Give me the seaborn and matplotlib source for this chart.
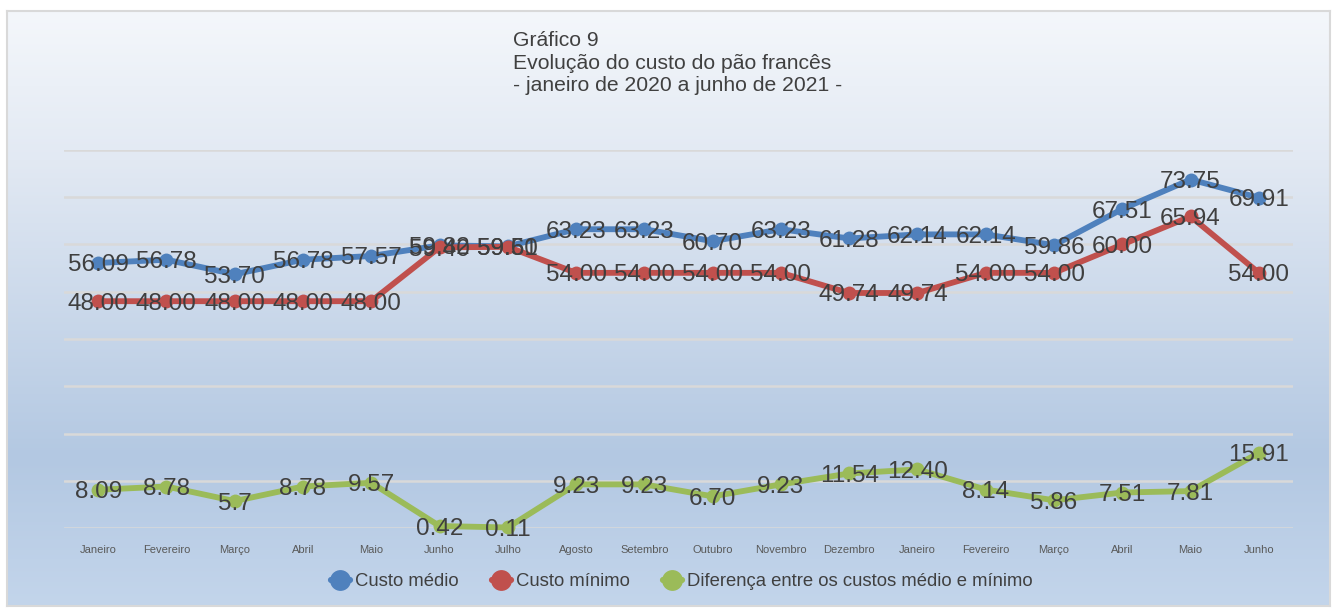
import numpy as np
import pandas as pd
import matplotlib
matplotlib.use("Agg")
import matplotlib.pyplot as plt
from matplotlib.colors import LinearSegmentedColormap
from matplotlib.lines import Line2D
import seaborn as sns

months = ["Janeiro", "Fevereiro", "Março", "Abril", "Maio", "Junho", "Julho", "Agosto",
          "Setembro", "Outubro", "Novembro", "Dezembro", "Janeiro", "Fevereiro", "Março",
          "Abril", "Maio", "Junho"]
custo_medio = [56.09, 56.78, 53.70, 56.78, 57.57, 59.82, 59.61, 63.23, 63.23, 60.70,
               63.23, 61.28, 62.14, 62.14, 59.86, 67.51, 73.75, 69.91]
custo_minimo = [48.00, 48.00, 48.00, 48.00, 48.00, 59.40, 59.50, 54.00, 54.00, 54.00,
                54.00, 49.74, 49.74, 54.00, 54.00, 60.00, 65.94, 54.00]
diferenca = [8.09, 8.78, 5.7, 8.78, 9.57, 0.42, 0.11, 9.23, 9.23, 6.70, 9.23, 11.54,
             12.40, 8.14, 5.86, 7.51, 7.81, 15.91]
diferenca_labels = ["8.09", "8.78", "5.7", "8.78", "9.57", "0.42", "0.11", "9.23", "9.23",
                    "6.70", "9.23", "11.54", "12.40", "8.14", "5.86", "7.51", "7.81", "15.91"]
series_names = ["Custo médio", "Custo mínimo", "Diferença entre os custos médio e mínimo"]
colors = ["#4f81bd", "#c0504d", "#9bbb59"]

sns.set_theme(style="white")
plt.rcParams["font.family"] = ["Liberation Sans", "DejaVu Sans"]

W, H = 1335, 609
fig = plt.figure(figsize=(W / 100, H / 100), dpi=100)
fig.patch.set_facecolor("white")

# background frame with gradient
fx0, fx1, fy0, fy1 = 7, 1330, 11, 606
bg = fig.add_axes([fx0 / W, 1 - fy1 / H, (fx1 - fx0) / W, (fy1 - fy0) / H], zorder=0)
cmap = LinearSegmentedColormap.from_list(
    "bg", [(0.0, "#f4f7fb"), (0.25, "#e2e9f3"), (0.75, "#b3c8e2"), (1.0, "#c3d5eb")])
grad = np.linspace(0, 1, 256).reshape(-1, 1)
bg.imshow(grad, aspect="auto", cmap=cmap, extent=[0, 1, 1, 0])
bg.set_xlim(0, 1)
bg.set_ylim(1, 0)
bg.set_xticks([])
bg.set_yticks([])
for s in bg.spines.values():
    s.set_color("#d9d9d9")
    s.set_linewidth(1.5)

# plot area
px0, px1, py_top, py_bot = 64, 1293, 150, 528
ax = fig.add_axes([px0 / W, 1 - py_bot / H, (px1 - px0) / W, (py_bot - py_top) / H], zorder=1)
ax.patch.set_alpha(0)

x = np.arange(len(months))
df = pd.DataFrame({
    "x": np.tile(x, 3),
    "valor": custo_medio + custo_minimo + diferenca,
    "serie": np.repeat(series_names, len(months)),
})

for i, name in enumerate(series_names):
    sub = df[df["serie"] == name]
    sns.lineplot(data=sub, x="x", y="valor", ax=ax, color=colors[i], linewidth=4.2,
                 marker="o", markersize=10, markeredgewidth=0, legend=False,
                 zorder=3 + i, clip_on=False)

label_sets = [[f"{v:.2f}" for v in custo_medio], [f"{v:.2f}" for v in custo_minimo], diferenca_labels]
vals_sets = [custo_medio, custo_minimo, diferenca]
for vals, labs in zip(vals_sets, label_sets):
    for xi, v, lab in zip(x, vals, labs):
        ax.text(xi, v, lab, ha="center", va="center_baseline", fontsize=17.5, color="#3f3f3f", zorder=10)

ax.set_xlim(-0.5, len(months) - 0.5)
ax.set_ylim(0, 80)
ax.set_yticks(np.arange(0, 81, 10))
ax.set_yticklabels([])
ax.tick_params(axis="y", length=0)
ax.grid(axis="y", color="#d9d9d9", linewidth=1.8)
ax.set_axisbelow(True)
ax.set_xticks(x)
ax.set_xticklabels(months, fontsize=8, color="#595959")
ax.tick_params(axis="x", length=0, pad=12)
ax.set_xlabel("")
ax.set_ylabel("")
for s in ax.spines.values():
    s.set_visible(False)

fig.text(513 / W, 1 - 31 / H, "Gráfico 9\nEvolução do custo do pão francês\n- janeiro de 2020 a junho de 2021 -",
         ha="left", va="top", fontsize=15.2, color="#404040", linespacing=1.24, zorder=5)

handles = [Line2D([0], [0], color=c, linewidth=4.5, marker="o", markersize=15, markeredgewidth=0)
           for c in colors]
fig.legend(handles, series_names, loc="center", bbox_to_anchor=(682 / W, 1 - 582 / H), ncol=3,
           frameon=False, fontsize=13.3, labelcolor="#404040", handlelength=1.0,
           handletextpad=0.3, columnspacing=1.8)

fig.savefig("out.png", dpi=100)
